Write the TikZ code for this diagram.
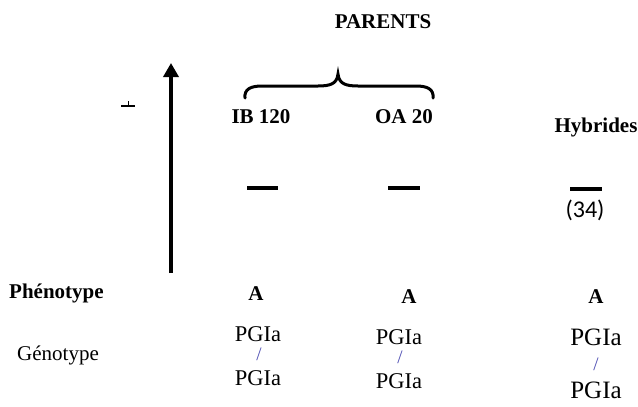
\documentclass[tikz,border=0pt]{standalone}
\usepackage{fontspec}
\setmainfont{Liberation Serif}
\newfontfamily\numfont{Carlito}
\usetikzlibrary{arrows.meta}
\begin{document}
\begin{tikzpicture}[x=1pt,y=-1pt,
  lbl/.style={inner sep=0pt,font=\fontsize{22.5}{25}\selectfont},
  biglbl/.style={inner sep=0pt,font=\fontsize{25}{28}\selectfont},
  blbl/.style={inner sep=0pt,font=\fontsize{21}{25}\selectfont\bfseries},
  slash/.style={inner sep=0pt,text=gray!60!blue,font=\fontsize{19}{20}\selectfont},
  band/.style={line width=4pt},
  brace/.style={line width=3pt,line cap=round}]
\useasboundingbox (0,0) rectangle (638,407);
% title
\node[blbl] (parents) at (383,22) {PARENTS};
% small mark
\coordinate (mk1) at (121,106);
\coordinate (mk2) at (135,106);
\draw[line width=1.2pt] (mk1) -- (mk2);
\draw[line width=1pt] (128,101) -- (128,106);
% axis arrow
\coordinate (axb) at (171,273);
\coordinate (axt) at (171,63);
\draw[line width=3.6pt,-{Triangle[length=14pt,width=15pt]}] (axb) -- (axt);
% brace
\draw[brace] (245,98) .. controls (244,89) and (251,86) .. (262,86) -- (318,86)
  .. controls (330,86) and (337,84) .. (338,74)
  .. controls (339,84) and (346,86) .. (358,86) -- (416,86)
  .. controls (427,86) and (434,89) .. (433,98);
% column headers
\node[blbl] (ib) at (261,117) {IB 120};
\node[blbl] (oa) at (404,117) {OA 20};
\node[blbl] (hy) at (596,127) {Hybrides};
% bands
\coordinate (b1a) at (247,188); \coordinate (b1b) at (278,188);
\coordinate (b2a) at (388,188); \coordinate (b2b) at (420,188);
\coordinate (b3a) at (570,189); \coordinate (b3b) at (602,189);
\draw[band] (b1a) -- (b1b);
\draw[band] (b2a) -- (b2b);
\draw[band] (b3a) -- (b3b);
\node[inner sep=0pt,font=\numfont\fontsize{24}{26}\selectfont] (n34) at (585,210) {(34)};
% row labels
\node[blbl,anchor=west] (phen) at (9,293) {Phénotype};
\node[inner sep=0pt,font=\fontsize{21}{25}\selectfont] (gen) at (58,355) {Génotype};
% phenotypes
\node[blbl] (a1) at (256,294) {A};
\node[blbl] (a2) at (409,297) {A};
\node[blbl] (a3) at (596,297) {A};
% genotypes
\node[lbl] (g1t) at (258,334) {PGIa};
\node[slash] (g1s) at (259,354) {/};
\node[lbl] (g1b) at (258,378) {PGIa};
\node[lbl] (g2t) at (399,337) {PGIa};
\node[slash] (g2s) at (400,357) {/};
\node[lbl] (g2b) at (399,381) {PGIa};
\node[biglbl] (g3t) at (596,337) {PGIa};
\node[slash] (g3s) at (596,364) {/};
\node[biglbl] (g3b) at (596,390) {PGIa};
\end{tikzpicture}
\end{document}
